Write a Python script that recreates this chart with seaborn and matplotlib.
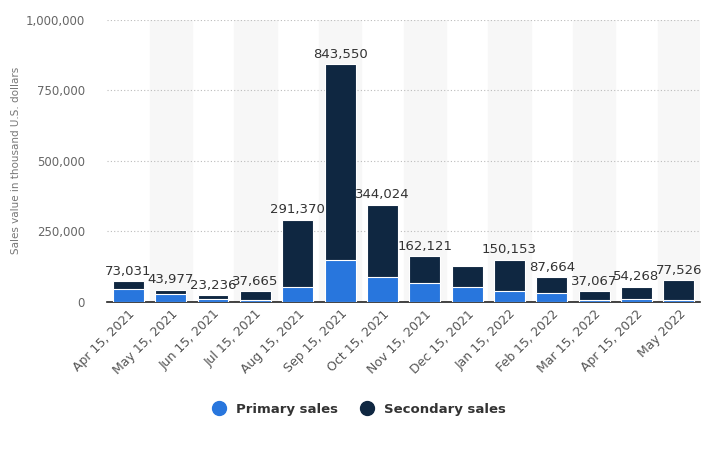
import numpy as np
import pandas as pd
import seaborn as sns
import matplotlib.pyplot as plt
from matplotlib.lines import Line2D

months = ["Apr 15, 2021", "May 15, 2021", "Jun 15, 2021", "Jul 15, 2021", "Aug 15, 2021",
          "Sep 15, 2021", "Oct 15, 2021", "Nov 15, 2021", "Dec 15, 2021", "Jan 15, 2022",
          "Feb 15, 2022", "Mar 15, 2022", "Apr 15, 2022", "May 2022"]
totals = [73031, 43977, 23236, 37665, 291370, 843550, 344024, 162121, 129000, 150153,
          87664, 37067, 54268, 77526]
primary = [45000, 29500, 11000, 8000, 54000, 150000, 90000, 66000, 52000, 40000,
           31000, 8000, 12000, 8000]
# Dec 15, 2021 has no total label in the source
show_label = [True] * 8 + [False] + [True] * 5

blue = "#2876dd"
navy = "#0f2741"

df = pd.DataFrame({"month": months, "total": totals, "primary": primary})

sns.set_style("white")
fig = plt.figure(figsize=(7.05, 4.5), dpi=100)
ax = fig.add_axes([0.152, 0.329, 0.841, 0.627])

# alternating background bands
for i in range(len(months)):
    if i % 2 == 1:
        ax.axvspan(i - 0.5, i + 0.5, color="#f7f7f7", zorder=0)

sns.barplot(data=df, x="month", y="total", color=navy, width=0.73, ax=ax,
            saturation=1, edgecolor="white", linewidth=0.8, zorder=2)
sns.barplot(data=df, x="month", y="primary", color=blue, width=0.73, ax=ax,
            saturation=1, edgecolor="white", linewidth=0.8, zorder=3)

for i, (t, s) in enumerate(zip(totals, show_label)):
    if s:
        ax.text(i, t + 12000, f"{t:,}", ha="center", va="bottom", fontsize=9.5, color="#333333")

ax.set_ylim(0, 1000000)
ax.set_xlim(-0.5, len(months) - 0.5)
ax.set_yticks([0, 250000, 500000, 750000, 1000000])
ax.set_yticklabels(["0", "250,000", "500,000", "750,000", "1,000,000"])
ax.yaxis.grid(True, linestyle=(0, (1, 2)), color="#bbbbbb", linewidth=0.8, zorder=1)
ax.set_axisbelow(True)
ax.tick_params(axis="y", length=0, colors="#666666", labelsize=8.5, pad=16)
ax.tick_params(axis="x", length=0, colors="#555555", labelsize=9, pad=4)
plt.setp(ax.get_xticklabels(), rotation=45, ha="right", rotation_mode="anchor")
ax.set_xlabel("")
ax.set_ylabel("Sales value in thousand U.S. dollars", fontsize=7.5, color="#777777")
ax.yaxis.set_label_coords(-0.145, 0.5)
sns.despine(ax=ax, left=True, top=True, right=True)
ax.spines["bottom"].set_color("#222222")
ax.spines["bottom"].set_linewidth(1.2)

handles = [Line2D([], [], marker="o", linestyle="", markersize=10, color=blue),
           Line2D([], [], marker="o", linestyle="", markersize=10, color=navy)]
fig.legend(handles, ["Primary sales", "Secondary sales"], loc="center",
           bbox_to_anchor=(0.505, 0.09), ncol=2, frameon=False, handletextpad=0.3,
           columnspacing=1.2, prop={"weight": "bold", "size": 9.5}, labelcolor="#333333")

fig.savefig("out.png", dpi=100)
